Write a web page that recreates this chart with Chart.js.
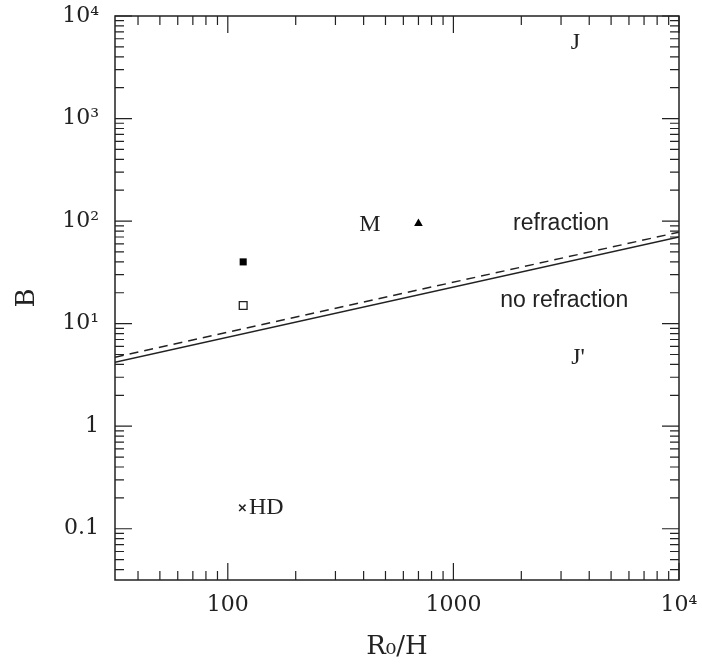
<!DOCTYPE html>
<html>
<head>
<meta charset="utf-8">
<script src="https://cdn.jsdelivr.net/npm/chart.js@4"></script>
<style>
  html, body { margin: 0; padding: 0; background: #fff; }
  #wrap { width: 702px; height: 669px; }
</style>
</head>
<body>
<div id="wrap"><canvas id="chart" width="702" height="669"></canvas></div>
<script>
// axis ranges (log)
const xRange = [Math.pow(10, 1.5), 1e4];
const yRange = [Math.pow(10, -1.5), 1e4];

// major tick values and their labels
const xTicks = [100, 1000, 10000];
const xTickLabels = ['100', '1000', '10⁴'];
const yTicks = [0.1, 1, 10, 100, 1000, 10000];
const yTickLabels = ['0.1', '1', '10¹', '10²', '10³', '10⁴'];

// boundary lines (R0/H, B)
const solidX = [31.6, 10000];
const solidY = [4.2, 70];
const dashX = [31.6, 10000];
const dashY = [4.7, 78];

// objects
const filledSquare = [{ x: 117, y: 40 }];
const openSquare = [{ x: 117, y: 15 }];
const triangle = [{ x: 700, y: 95 }];
const crossHD = [{ x: 116, y: 0.16 }];

// text labels in data coords
const labelText = ['J', "J'", 'M', 'HD', 'refraction', 'no refraction'];
const labelX = [3470, 3570, 427, 124, 3000, 3100];
const labelY = [5470, 4.7, 93, 0.162, 94, 16.6];
const labelFont = ['serif', 'serif', 'serif', 'serif', 'sans', 'sans'];
const labelAlign = ['center', 'center', 'center', 'left', 'center', 'center'];

const ink = '#222';

const frameTicks = {
  id: 'frameTicks',
  afterDraw(chart) {
    const { ctx, chartArea: a, scales: { x, y } } = chart;
    ctx.save();
    ctx.strokeStyle = ink;
    ctx.lineWidth = 1.5;
    ctx.strokeRect(a.left, a.top, a.right - a.left, a.bottom - a.top);
    ctx.lineWidth = 1.2;
    const major = 17, minor = 9;
    const tick = (px, len, horiz) => {
      ctx.beginPath();
      if (horiz) {
        ctx.moveTo(px, a.bottom); ctx.lineTo(px, a.bottom - len);
        ctx.moveTo(px, a.top); ctx.lineTo(px, a.top + len);
      } else {
        ctx.moveTo(a.left, px); ctx.lineTo(a.left + len, px);
        ctx.moveTo(a.right, px); ctx.lineTo(a.right - len, px);
      }
      ctx.stroke();
    };
    for (let d = -2; d <= 4; d++) {
      for (let m = 1; m <= 9; m++) {
        const v = m * Math.pow(10, d);
        const len = m === 1 ? major : minor;
        if (v >= xRange[0] * 0.999 && v <= xRange[1] * 1.001) tick(x.getPixelForValue(v), len, true);
        if (v >= yRange[0] * 0.999 && v <= yRange[1] * 1.001) tick(y.getPixelForValue(v), len, false);
      }
    }
    // text labels
    ctx.fillStyle = ink;
    ctx.textBaseline = 'middle';
    labelText.forEach((t, i) => {
      ctx.font = labelFont[i] === 'serif' ? '24px "Liberation Serif"' : '23px "Liberation Sans"';
      ctx.textAlign = labelAlign[i];
      ctx.fillText(t, x.getPixelForValue(labelX[i]), y.getPixelForValue(labelY[i]));
    });
    ctx.restore();
  }
};

const tickFont = { family: 'DejaVu Serif', size: 22 };

new Chart(document.getElementById('chart'), {
  type: 'scatter',
  data: {
    datasets: [
      { data: solidX.map((v, i) => ({ x: v, y: solidY[i] })), showLine: true, borderColor: ink, borderWidth: 1.5, pointRadius: 0 },
      { data: dashX.map((v, i) => ({ x: v, y: dashY[i] })), showLine: true, borderColor: ink, borderWidth: 1.5, borderDash: [9, 6], pointRadius: 0 },
      { data: filledSquare, pointStyle: 'rect', pointRadius: 5, backgroundColor: '#000', borderColor: '#000', borderWidth: 0 },
      { data: openSquare, pointStyle: 'rect', pointRadius: 5.5, backgroundColor: '#fff', borderColor: ink, borderWidth: 1.3 },
      { data: triangle, pointStyle: 'triangle', pointRadius: 5, backgroundColor: '#000', borderColor: '#000', borderWidth: 0 },
      { data: crossHD, pointStyle: 'crossRot', pointRadius: 4.5, borderColor: ink, borderWidth: 1.5 }
    ]
  },
  options: {
    responsive: false,
    animation: false,
    layout: { padding: { top: 16, right: 23, left: 0, bottom: 0 } },
    plugins: { legend: { display: false }, tooltip: { enabled: false } },
    scales: {
      x: {
        type: 'logarithmic',
        min: xRange[0], max: xRange[1],
        grid: { display: false, drawTicks: false },
        border: { display: false },
        afterBuildTicks: s => { s.ticks = xTicks.map(v => ({ value: v })); },
        afterFit: s => { s.height = 89; s.paddingLeft = 0; s.paddingRight = 0; },
        ticks: {
          color: ink, font: tickFont, padding: 12, maxRotation: 0,
          callback: (v) => xTickLabels[xTicks.indexOf(v)]
        },
        title: { display: true, text: 'R₀/H', color: ink, font: { family: 'DejaVu Serif', size: 26 }, padding: { top: 0, bottom: 6 } }
      },
      y: {
        type: 'logarithmic',
        min: yRange[0], max: yRange[1],
        grid: { display: false, drawTicks: false },
        border: { display: false },
        afterBuildTicks: s => { s.ticks = yTicks.map(v => ({ value: v })); },
        afterFit: s => { s.width = 115; s.paddingTop = 0; s.paddingBottom = 0; },
        ticks: {
          color: ink, font: tickFont, padding: 16,
          callback: (v) => yTickLabels[yTicks.indexOf(v)]
        },
        title: { display: true, text: 'B', color: ink, font: { family: 'DejaVu Serif', size: 26 }, padding: { top: 12, bottom: 0 } }
      }
    }
  },
  plugins: [frameTicks]
});
</script>
</body>
</html>
